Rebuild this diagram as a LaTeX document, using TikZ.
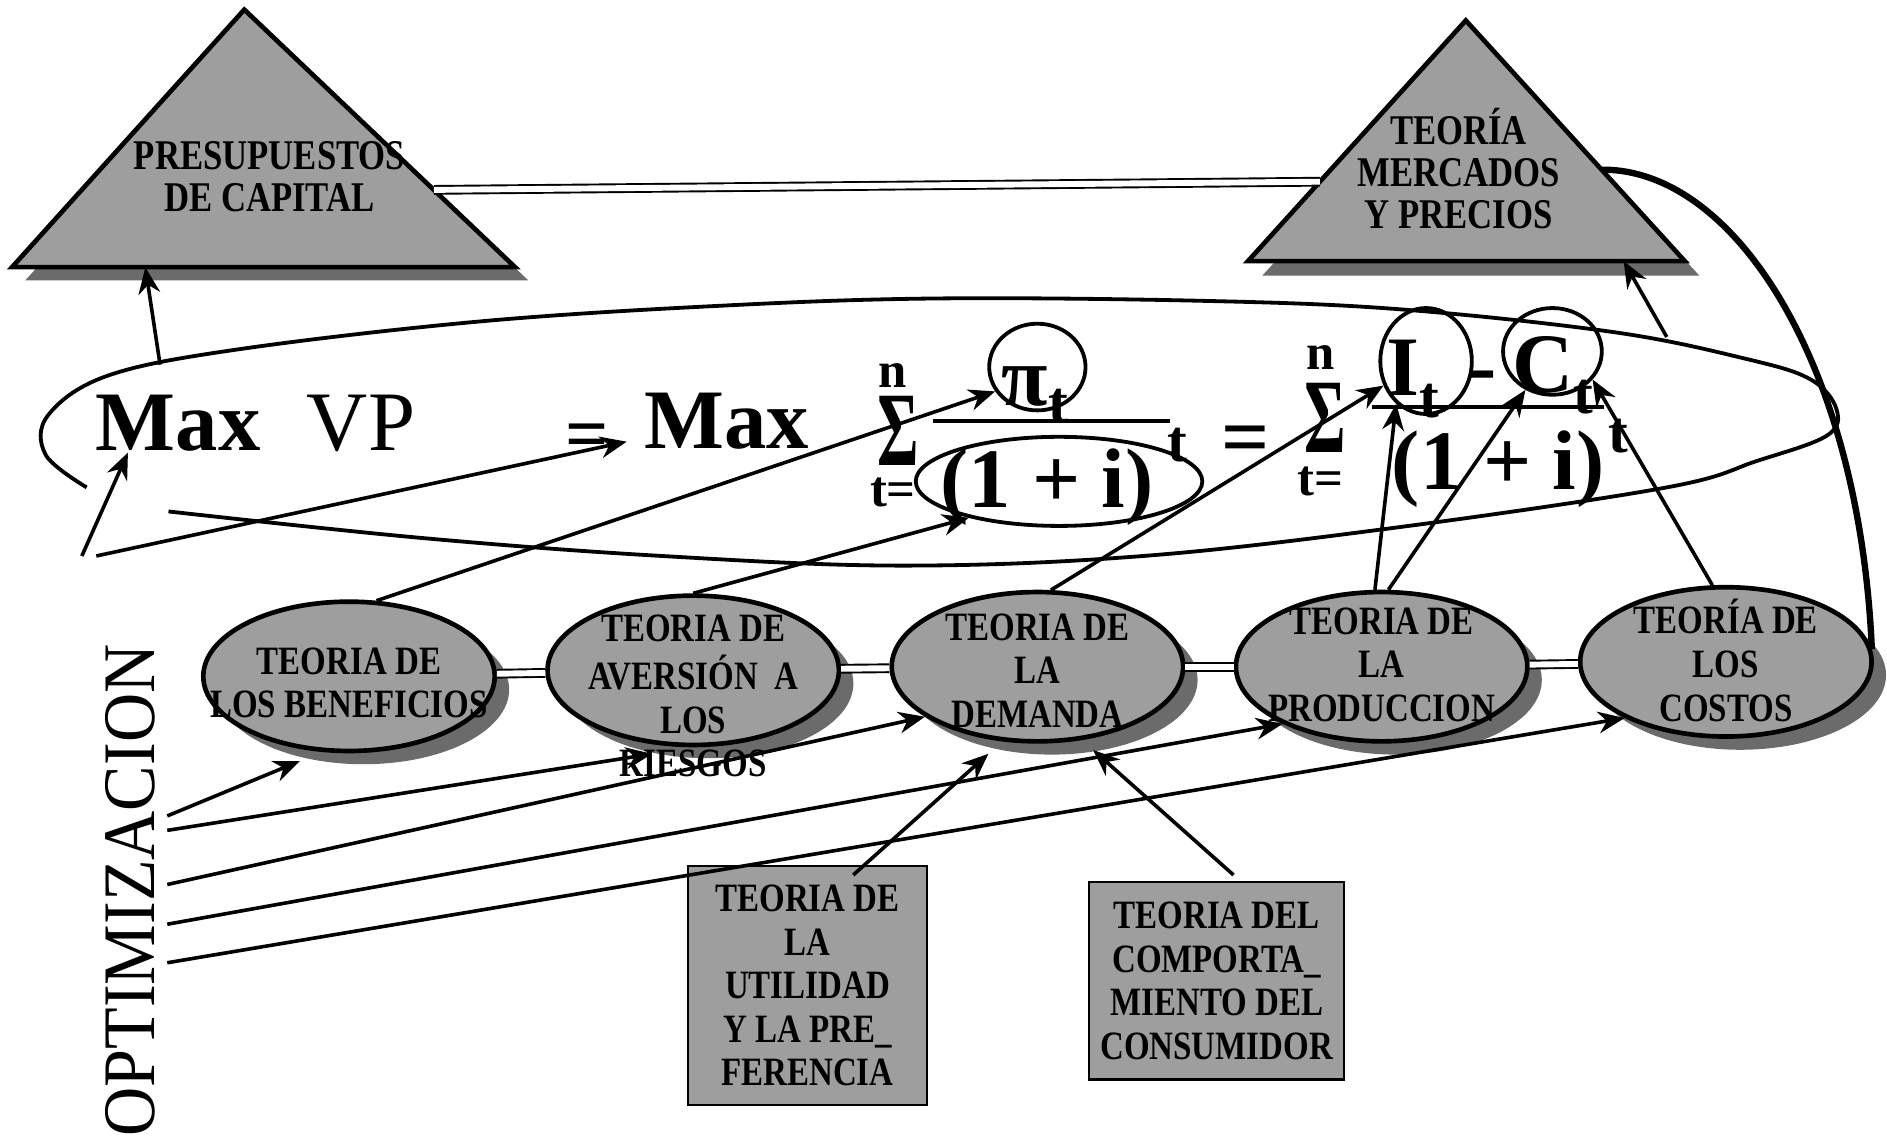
\documentclass[tikz,border=0pt]{standalone}
\usepackage{fontspec}
\setmainfont{Liberation Serif}
\newfontfamily\tagfont{Liberation Serif}[FakeStretch=0.82]
\newfontfamily\optfont{Liberation Serif}[FakeStretch=0.92]
\newfontfamily\sigfont{Liberation Serif}[FakeStretch=0.6]
\usepackage{tikz}
\usetikzlibrary{positioning,arrows.meta,shadows,shapes.geometric,calc}

\definecolor{boxgray}{gray}{0.62}
\definecolor{shadegray}{gray}{0.42}

% text that does not widen its shape
\newcommand{\tagtxt}[2][-0.15cm]{\makebox[0pt]{\raisebox{#1}[0pt][0pt]{\begin{tabular}[c]{@{}c@{}}#2\end{tabular}}}}

\begin{document}
\begin{tikzpicture}[
		x=0.01cm, y=-0.01cm,
		theory/.style={
			ellipse,
			draw,
			line width=1.1pt,
			fill=boxgray,
			minimum width=2.42cm,
			minimum height=1.24cm,
			inner sep=0pt,
			font=\tagfont\bfseries\fontsize{9.5}{10.3}\selectfont,
			drop shadow={shadow xshift=1.2mm, shadow yshift=-1.1mm, fill=shadegray, opacity=1}
		},
		card/.style={
			draw,
			line width=0.5pt,
			fill=boxgray,
			inner sep=0pt,
			align=center,
			font=\tagfont\bfseries\fontsize{9.5}{10.3}\selectfont
		},
		roof/.style={
			inner sep=0pt,
			align=center,
			font=\tagfont\bfseries\fontsize{10}{10}\selectfont
		},
		ring/.style={ellipse, draw, line width=0.9pt, inner sep=0pt},
		bigsym/.style={inner sep=0pt, font=\bfseries\fontsize{20}{20}\selectfont},
		smallsym/.style={inner sep=0pt, font=\bfseries\fontsize{12}{12}\selectfont},
		sumsym/.style={inner sep=0pt, font=\sigfont\bfseries\fontsize{25}{25}\selectfont},
		arrow/.style={-{Stealth[length=2.2mm, width=1.8mm]}, line width=0.85pt},
		link/.style={line width=0.45pt, double=white, double distance=1.4pt}
		]
		\useasboundingbox (0,0) rectangle (1568,952);
		
		% Triangles
		\coordinate (ltA) at (203,8);
		\coordinate (ltL) at (10,222);
		\coordinate (ltR) at (428,222);
		\coordinate (rtA) at (1218,17);
		\coordinate (rtL) at (1037,217);
		\coordinate (rtR) at (1400,217);
		\fill[shadegray] ([shift={(11,11)}]ltA) -- ([shift={(11,11)}]ltL) -- ([shift={(11,11)}]ltR) -- cycle;
		\fill[shadegray] ([shift={(12,12)}]rtA) -- ([shift={(12,12)}]rtL) -- ([shift={(12,12)}]rtR) -- cycle;
		\draw[fill=boxgray, line width=1.1pt, line join=miter] (ltA) -- (ltL) -- (ltR) -- cycle;
		\draw[fill=boxgray, line width=1.1pt, line join=miter] (rtA) -- (rtL) -- (rtR) -- cycle;
		\node[roof] (presup) at (224,147) {PRESUPUESTOS\\DE CAPITAL};
		\node[roof] (mercados) at (1212,140) {TEORÍA\\MERCADOS\\Y PRECIOS};
		
		\draw[link] ($(ltA)!0.7!(ltR)$) -- ($(rtA)!0.67!(rtL)$);
		
		% Formula ring
		\draw[line width=0.9pt] plot[smooth, tension=0.6] coordinates {
			(72,405) (38,378) (40,345) (90,312) (200,290) (400,267) (600,254)
			(780,248) (1000,250) (1163,257) (1341,276) (1450,298) (1504,315)
			(1526,340) (1518,362) (1460,383) (1385,405) (1163,438) (950,462)
			(750,470) (550,462) (350,447) (140,425)};
		
		% Formula
		\node[bigsym] (maxa) at (148,352) {Max};
		\node[inner sep=0pt, font=\fontsize{20}{20}\selectfont] (vp) at (300,352) {VP};
		\node[bigsym, font=\bfseries\fontsize{18}{18}\selectfont] (eqa) at (488,367) {=};
		\node[bigsym] (maxb) at (604,350) {Max};
		\node[smallsym] (na) at (742,312) {n};
		\node[sumsym] (siga) at (746,358) {Σ};
		\node[smallsym] (ta) at (742,409) {t=};
		\node[bigsym] (pit) at (860,328) {π\raisebox{-4pt}{\fontsize{14}{14}\selectfont t}};
		\node[ring, minimum width=0.8cm, minimum height=0.72cm] (picirc) at (862,305) {};
		\draw[line width=1pt] (775,350) -- (972,350);
		\node[bigsym] (dena) at (870,405) {(1 + i)};
		\node[smallsym, font=\bfseries\fontsize{14}{14}\selectfont] (supa) at (978,370) {t};
		\node[ring, minimum width=2.38cm, minimum height=0.74cm] (denacirc) at (880,400) {};
		\node[bigsym] (eqb) at (1035,370) {=};
		\node[smallsym] (nb) at (1097,297) {n};
		\node[sumsym] (sigb) at (1101,347) {Σ};
		\node[smallsym] (tb) at (1097,400) {t=};
		\node[bigsym] (inc) at (1174,315) {I\raisebox{-5pt}{\fontsize{14}{14}\selectfont t}};
		\node[bigsym] (minus) at (1232,318) {-};
		\node[bigsym] (cost) at (1290,312) {C\raisebox{-5pt}{\fontsize{14}{14}\selectfont t}};
		\node[ring, minimum width=0.76cm, minimum height=0.88cm] (Icirc) at (1185,300) {};
		\node[ring, minimum width=0.82cm, minimum height=0.72cm] (Ccirc) at (1290,292) {};
		\draw[line width=1pt] (1140,338) -- (1333,338);
		\node[bigsym] (denb) at (1245,390) {(1 + i)};
		\node[smallsym, font=\bfseries\fontsize{14}{14}\selectfont] (supb) at (1345,362) {t};
		
		% Theories
		\node[theory] (e1) at (290,562) {\tagtxt[-0.17cm]{TEORIA DE\\LOS BENEFICIOS}};
		\node[theory, right=0.4cm of e1, yshift=0.05cm] (e2) {\tagtxt[-0.33cm]{TEORIA DE\\AVERSIÓN\ \ A\\LOS\\RIESGOS}};
		\node[theory, right=0.4cm of e2, yshift=0.03cm] (e3) {\tagtxt{TEORIA DE\\LA\\DEMANDA}};
		\node[theory, right=0.4cm of e3] (e4) {\tagtxt[-0.1cm]{TEORIA DE\\LA\\PRODUCCION}};
		\node[theory, right=0.4cm of e4, yshift=0.04cm] (e5) {\tagtxt[-0.12cm]{TEORÍA DE\\LOS\\COSTOS}};
		
		\draw[link] (e1) -- (e2);
		\draw[link] (e2) -- (e3);
		\draw[link] (e3) -- (e4);
		\draw[link] (e4) -- (e5);
		
		% Boxes
		\node[card, minimum width=1.98cm, minimum height=1.98cm] (r1) at (671,819) {TEORIA DE\\LA\\UTILIDAD\\Y LA PRE\_\\FERENCIA};
		\node[card, minimum width=2.12cm, minimum height=1.64cm] (r2) at (1011,815) {TEORIA DEL\\COMPORTA\_\\MIENTO DEL\\CONSUMIDOR};
		
		\node[rotate=90, inner sep=0pt, font=\optfont\fontsize{17.5}{17.5}\selectfont] (optim) at (108,740) {OPTIMIZACION};
		
		% Arrow ends
		\coordinate (oa) at (68,462);
		\coordinate (ob) at (80,462);
		\coordinate (o1) at (139,678);
		\coordinate (o2) at (139,690);
		\coordinate (o3) at (139,735);
		\coordinate (o4) at (139,768);
		\coordinate (o5) at (139,800);
		\coordinate (vpa) at (133,303);
		\coordinate (vpb) at (1385,280);
		
		% Arrows
		\draw[arrow] (oa) -- (maxa.210);
		\draw[arrow] (ob) -- ($(eqa.east)+(14,0)$);
		\draw[arrow] (vpa) -- ($(ltL)!0.265!(ltR)$);
		\draw[arrow] (vpb) -- ($(rtL)!0.86!(rtR)$);
		\draw[arrow] (e1.70) -- (picirc.210);
		\draw[arrow] (e2.90) -- (denacirc.202);
		\draw[arrow] (e3.80) -- (Icirc.210);
		\draw[arrow] (e4.95) -- (Icirc.235);
		\draw[arrow] (e4.85) -- (Ccirc.235);
		\draw[arrow] (e5.100) -- (Ccirc.-35);
		\draw[arrow] (o1) -- ($(e1.236)+(0,10)$);
		\draw[arrow] (o2) -- ($(e2.241)+(0,8)$);
		\draw[arrow] (o3) -- (e3.204);
		\draw[arrow] (o4) -- (e4.210);
		\draw[arrow] (o5) -- (e5.209);
		\draw[arrow] ([xshift=0.38cm, yshift=-0.08cm]r1.north) -- ($(e3.236)+(0,12)$);
		\draw[arrow] ([xshift=0.14cm, yshift=0.05cm]r2.north) -- ($(e3.-52)+(0,10)$);
		\draw[line width=1.5pt] ($(rtA)!0.62!(rtR)$) .. controls (1440,140) and (1545,300) .. (e5.5);
		
	\end{tikzpicture}
\end{document}
